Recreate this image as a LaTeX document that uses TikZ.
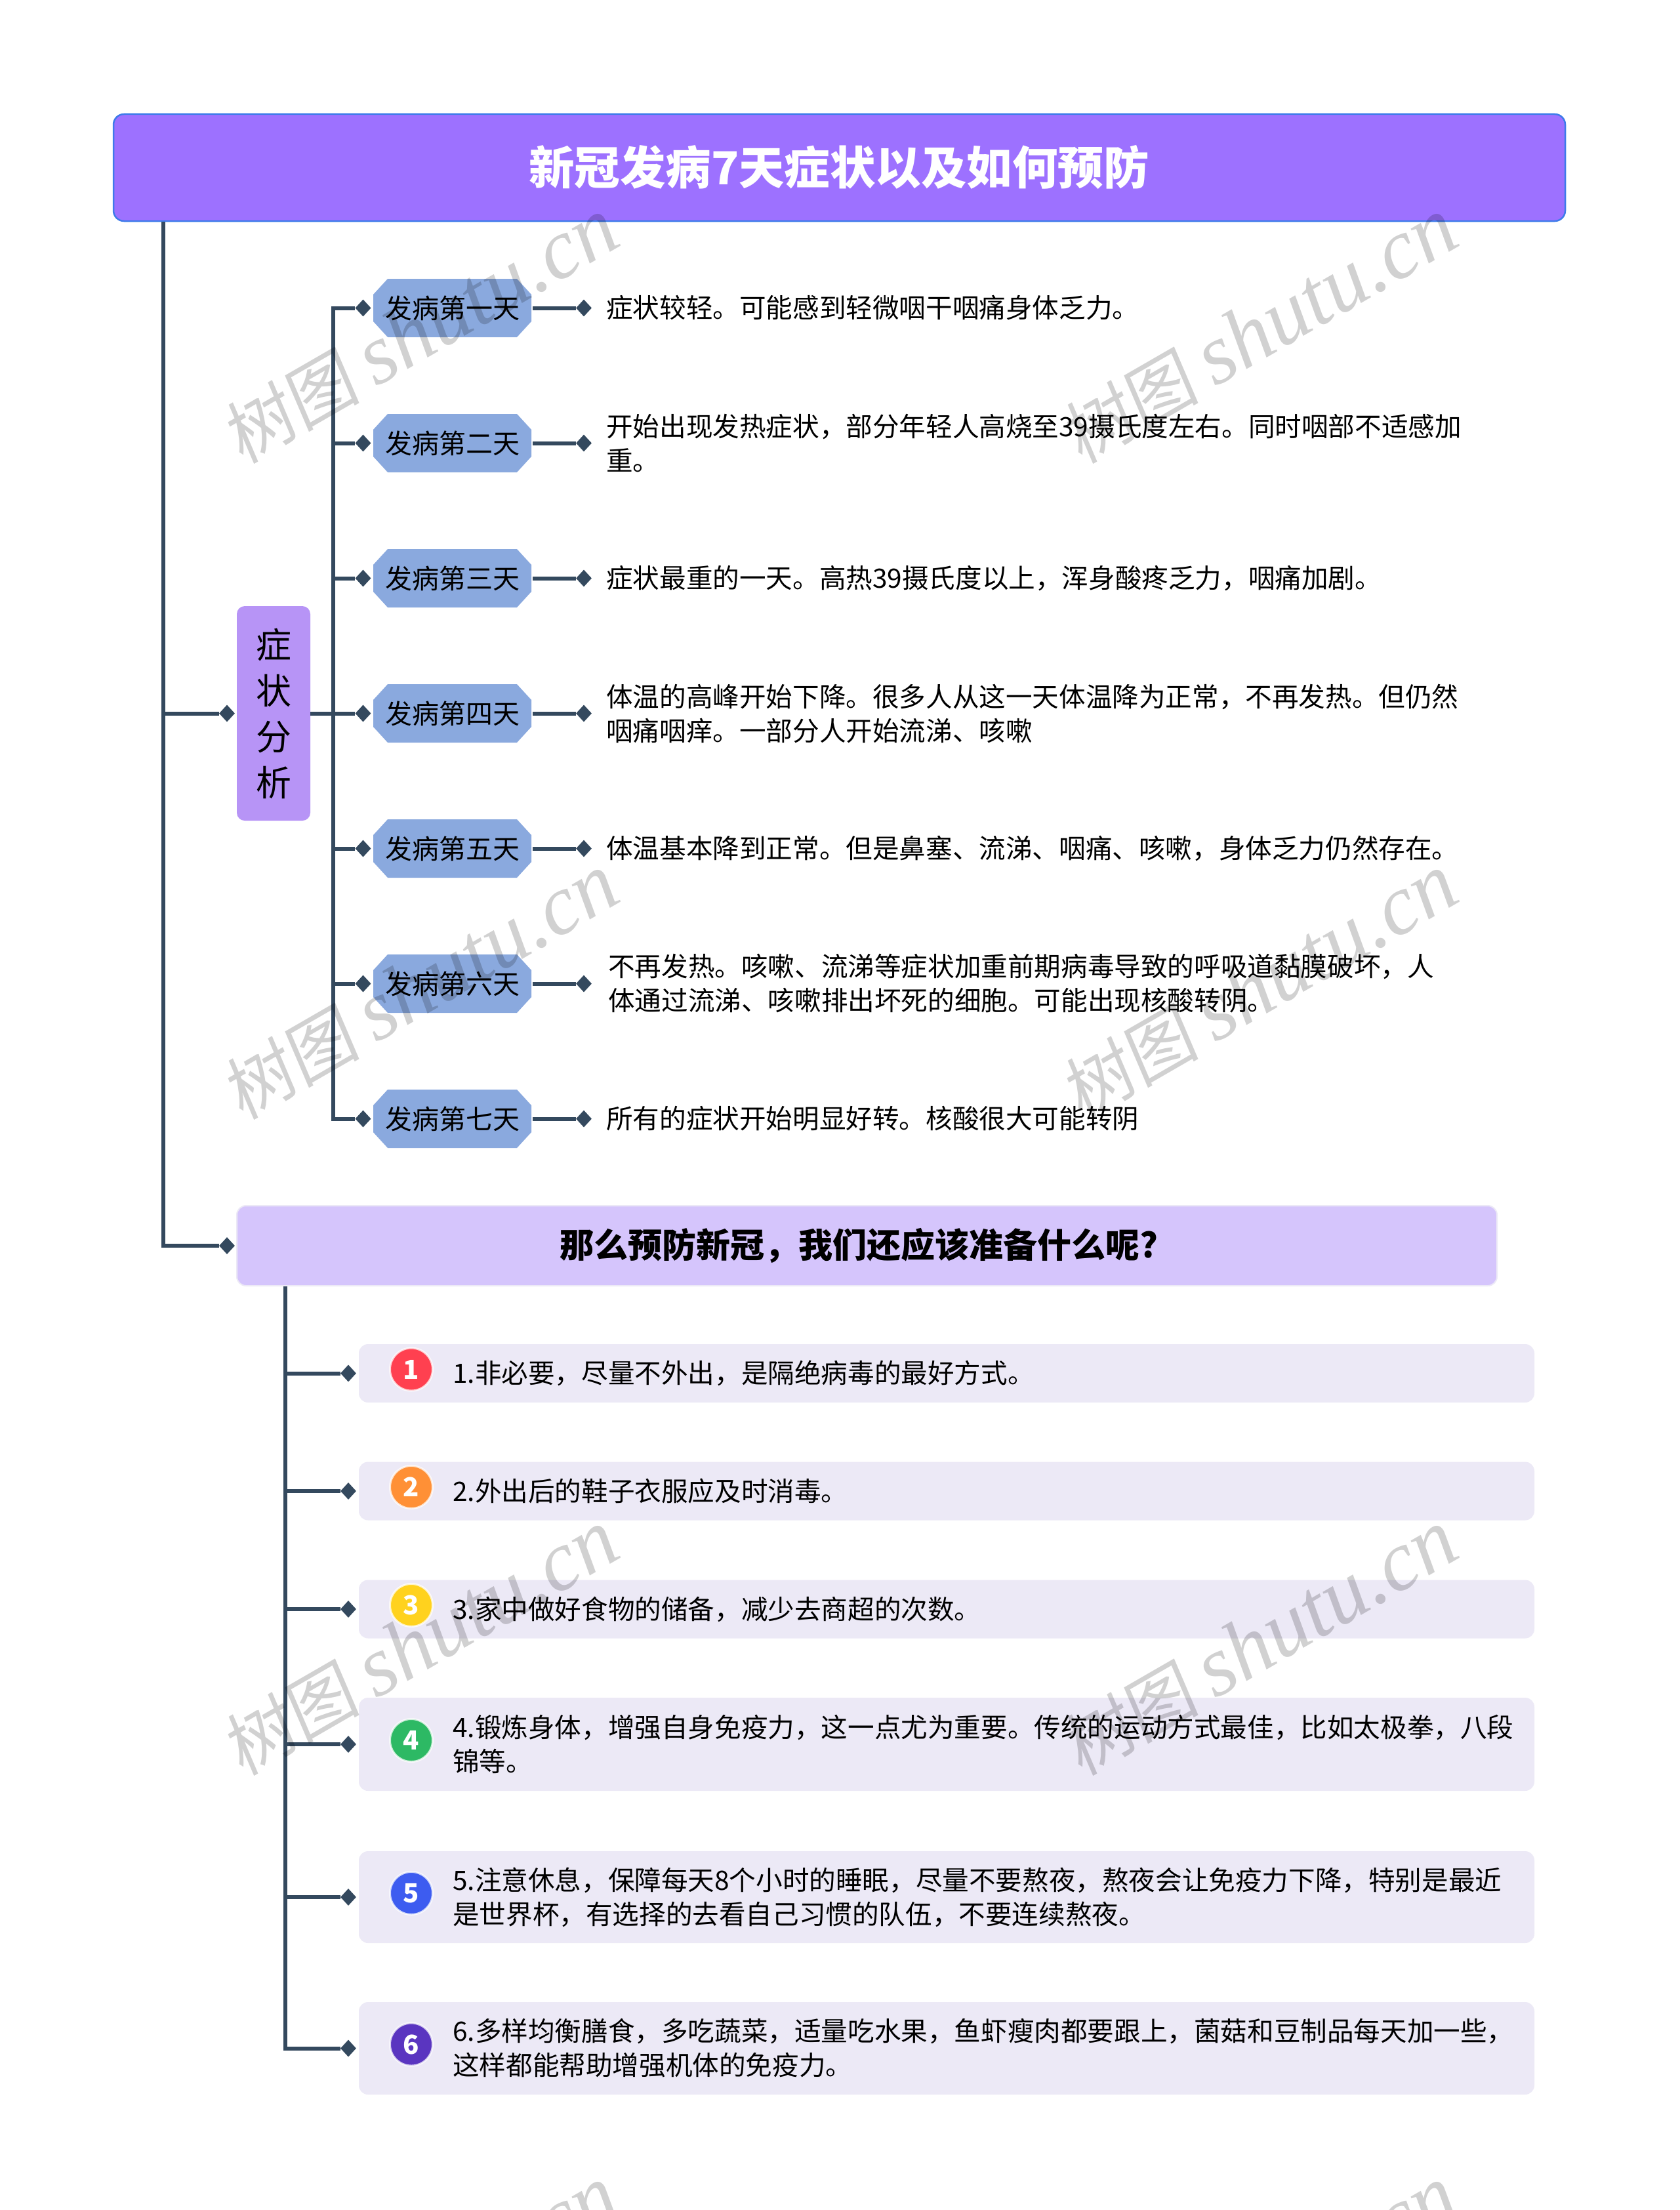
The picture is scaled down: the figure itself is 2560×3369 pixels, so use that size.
\documentclass[tikz,border=0pt]{standalone}
\usepackage{fontspec}
\setmainfont{Noto Sans CJK SC}
\newfontfamily\wmcjk[FakeSlant=0.12]{Noto Sans CJK SC}
\newfontfamily\wmlat{Liberation Serif}
\usetikzlibrary{shapes.geometric}
\definecolor{linec}{HTML}{34495E}
\definecolor{titlef}{HTML}{9D71FF}
\definecolor{titleb}{HTML}{3E7BEA}
\definecolor{dayf}{HTML}{8AA9DE}
\definecolor{sympf}{HTML}{B794F6}
\definecolor{subf}{HTML}{D5C5FC}
\definecolor{itemf}{HTML}{ECE9F6}
\definecolor{b1}{HTML}{FF4050}
\definecolor{b2}{HTML}{FF9036}
\definecolor{b3}{HTML}{FFD21E}
\definecolor{b4}{HTML}{2DB964}
\definecolor{b5}{HTML}{3D5CF0}
\definecolor{b6}{HTML}{5A35C0}
\tikzset{
  x=1pt,y=-1pt,
  conn/.style={draw=linec,line width=6pt},
  dia/.style={diamond,aspect=1,fill=linec,inner sep=0pt,minimum width=24pt,minimum height=26pt},
  octf/.style={fill=dayf},
  dayn/.style={inner sep=0pt,minimum width=241pt,minimum height=89pt,font=\fontsize{41}{52}\selectfont},
  body/.style={anchor=west,align=left,inner sep=0pt,font=\fontsize{40.6}{52}\selectfont},
  itembox/.style={fill=itemf,rounded corners=14pt,inner sep=0pt,anchor=center},
  badge/.style={circle,inner sep=0pt,minimum size=65pt,draw=white,draw opacity=.75,line width=3pt,
     text=white,font=\fontsize{40}{40}\selectfont\bfseries},
  wm/.style={rotate=30,inner sep=0pt,text=black,text opacity=.18},
}
\newcommand\dayrow[3]{%
  \fill[octf] (569+22,#2-44.5) -- (810-22,#2-44.5) -- (810,#2-20.5) -- (810,#2+20.5) -- (810-22,#2+44.5)
     -- (569+22,#2+44.5) -- (569,#2+20.5) -- (569,#2-20.5) -- cycle;
  \node[dayn] (day#1) at (689.5,#2) {发病第#3天};
  \node[dia] (dl#1) at (553.5,#2) {};
  \node[dia] (dr#1) at (890,#2) {};
  \draw[conn] (day#1.east) ++(2,0) -- (dr#1.west);
  \draw[conn] (bt.south |- dl#1) -- (dl#1.west);
}
\newcommand\itemrow[6]{% id, cy, height, badge colour, digit, text
  \node[itembox,minimum height=#3pt,minimum width=1792pt] (it#1) at (1443,#2) {};
  \node[dia] (il#1) at (531,#2) {};
  \coordinate (ib#1) at (627,#2-6);
  \node[badge,fill=#4] (bd#1) at (ib#1) {#5};
  \node[body] (tx#1) at (690,#2) {#6};
}
\begin{document}
\begin{tikzpicture}
\useasboundingbox (0,0) rectangle (2560,3369);
\fill[white] (0,0) rectangle (2560,3369);

% title
\node[fill=titlef,draw=titleb,line width=2.5pt,rounded corners=16pt,inner sep=0pt,
  minimum width=2213pt,minimum height=163pt] (title) at (1279.5,255.5) {};
\node[inner sep=0pt,text=white,font=\fontsize{69.5}{70}\selectfont\bfseries] (titletext) at (1279,255) {新冠发病7天症状以及如何预防};

% symptoms
\node[fill=sympf,rounded corners=12pt,inner sep=0pt,minimum width=112pt,minimum height=327pt,
  align=center,font=\fontsize{54}{70}\selectfont] (symp) at (417,1087.5) {症\\状\\分\\析};
\node[dia] (sympd) at (346,1087.5) {};
\coordinate (bt) at (508,469.5);
\coordinate (bb) at (508,1705.5);

\dayrow{1}{469.5}{一}
\dayrow{2}{675.5}{二}
\dayrow{3}{881.5}{三}
\dayrow{4}{1087.5}{四}
\dayrow{5}{1293.5}{五}
\dayrow{6}{1499.5}{六}
\dayrow{7}{1705.5}{七}
\draw[conn,line cap=rect] (bt) -- (bb);
\draw[conn] (symp.east) -- (dl4.west -| bt);

\node[body] (t1) at (924,469.5) {症状较轻。可能感到轻微咽干咽痛身体乏力。};
\node[body] (t2) at (924,675.5) {开始出现发热症状，部分年轻人高烧至39摄氏度左右。同时咽部不适感加\\重。};
\node[body] (t3) at (924,881.5) {症状最重的一天。高热39摄氏度以上，浑身酸疼乏力，咽痛加剧。};
\node[body] (t4) at (924,1087.5) {体温的高峰开始下降。很多人从这一天体温降为正常，不再发热。但仍然\\咽痛咽痒。一部分人开始流涕、咳嗽};
\node[body] (t5) at (924,1293.5) {体温基本降到正常。但是鼻塞、流涕、咽痛、咳嗽，身体乏力仍然存在。};
\node[body] (t6) at (927,1499.5) {不再发热。咳嗽、流涕等症状加重前期病毒导致的呼吸道黏膜破坏，人\\体通过流涕、咳嗽排出坏死的细胞。可能出现核酸转阴。};
\node[body] (t7) at (924,1705.5) {所有的症状开始明显好转。核酸很大可能转阴};

% prevention
\node[fill=subf,draw=itemf,line width=2pt,rounded corners=14pt,inner sep=0pt,minimum width=1921pt,minimum height=122pt] (sub) at (1321.5,1899) {};
\node[inner sep=0pt,font=\fontsize{52}{52}\selectfont\bfseries] (subtext) at (1309,1899) {那么预防新冠，我们还应该准备什么呢?};
\node[dia] (subd) at (346,1899) {};

% main trunk
\coordinate (mt) at (249,337);
\draw[conn,line join=miter] (title.south -| mt) -- (mt |- subd) -- (subd.west);
\draw[conn] (mt |- sympd) -- (sympd.west);

\itemrow{1}{2093.5}{89}{b1}{1}{1.非必要，尽量不外出，是隔绝病毒的最好方式。}
\itemrow{2}{2273}{89}{b2}{2}{2.外出后的鞋子衣服应及时消毒。}
\itemrow{3}{2453}{89}{b3}{3}{3.家中做好食物的储备，减少去商超的次数。}
\itemrow{4}{2659}{142}{b4}{4}{4.锻炼身体，增强自身免疫力，这一点尤为重要。传统的运动方式最佳，比如太极拳，八段\\锦等。}
\itemrow{5}{2892}{140}{b5}{5}{5.注意休息，保障每天8个小时的睡眠，尽量不要熬夜，熬夜会让免疫力下降，特别是最近\\是世界杯，有选择的去看自己习惯的队伍，不要连续熬夜。}
\itemrow{6}{3122.5}{141}{b6}{6}{6.多样均衡膳食，多吃蔬菜，适量吃水果，鱼虾瘦肉都要跟上，菌菇和豆制品每天加一些，\\这样都能帮助增强机体的免疫力。}
\coordinate (st) at (435,1960);
\draw[conn,line join=miter] (sub.south -| st) -- (st |- il6) -- (il6.west);
\foreach \i in {1,...,5}{\draw[conn] (st |- il\i) -- (il\i.west);}

% watermarks
\foreach \wx/\nm in {640/a,1919/b}{
  \foreach \wy/\mm in {505/1,1505/2,2505/3,3505/4}{
    \node[wm] (wm\nm\mm) at (\wx,\wy) {\fontsize{106}{120}\selectfont\wmcjk 树图 \fontsize{130}{120}\selectfont\wmlat\itshape shutu.cn};
  }
}
\end{tikzpicture}
\end{document}
